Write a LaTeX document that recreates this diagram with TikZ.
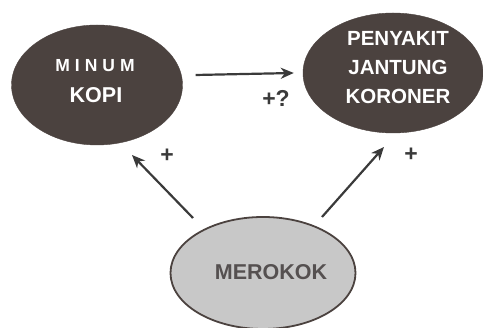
\documentclass[tikz,border=0pt]{standalone}
\usepackage{fontspec}
\setmainfont{Liberation Sans}
\usetikzlibrary{arrows.meta,shapes.geometric}
\definecolor{darkfill}{HTML}{4B423F}
\definecolor{arrowcol}{HTML}{3A3A3A}
\definecolor{lightfill}{HTML}{C8C8C8}
\definecolor{lighttext}{HTML}{555050}
\tikzset{
  darkell/.style={ellipse, fill=darkfill, draw=darkfill, inner sep=0pt, text=white, align=center},
  lightell/.style={ellipse, fill=lightfill, draw=darkfill, line width=1.8pt, inner sep=0pt, text=lighttext},
  arr/.style={draw=arrowcol, line width=2.2pt, -{Stealth[length=13pt,width=11pt,inset=4pt]}},
  sign/.style={text=arrowcol, font=\fontsize{23}{25}\selectfont\bfseries}
}
\begin{document}
\begin{tikzpicture}[x=1pt,y=1pt]
\useasboundingbox (0,0) rectangle (483,328);
\node[darkell, minimum width=171pt, minimum height=120pt] (kopi) at (97,243) {};
\node[font=\fontsize{17.5}{19}\selectfont\bfseries, text=white] (kopit1) at (95,262) {M\hspace{5pt}I\hspace{5pt}N\hspace{5pt}U\hspace{5pt}M};
\node[font=\fontsize{21.5}{23}\selectfont\bfseries, text=white] (kopit2) at (96,233) {KOPI};
\node[darkell, minimum width=180pt, minimum height=120pt] (pjk) at (393,255) {};
\node[font=\fontsize{20.5}{29}\selectfont\bfseries, text=white, align=center] (pjkt) at (398,260) {PENYAKIT\\JANTUNG\\KORONER};
\node[lightell, minimum width=185pt, minimum height=112pt] (mer) at (263,55) {};
\node[font=\fontsize{21.5}{23}\selectfont\bfseries, text=lighttext] (mert) at (271,56) {MEROKOK};
\draw[arr] ([xshift=13pt,yshift=10pt]kopi.east) -- ([xshift=-9pt]pjk.west);
\draw[arr] ([shift={(-70pt,55pt)}]mer.center) -- ([shift={(35pt,-70pt)}]kopi.center);
\draw[arr] ([shift={(59pt,56pt)}]mer.center) -- ([shift={(-9pt,-74pt)}]pjk.center);
\node[sign] (s1) at (276,230) {+?};
\node[sign] (s2) at (167,172) {+};
\node[sign] (s3) at (411,173) {+};
\end{tikzpicture}
\end{document}
